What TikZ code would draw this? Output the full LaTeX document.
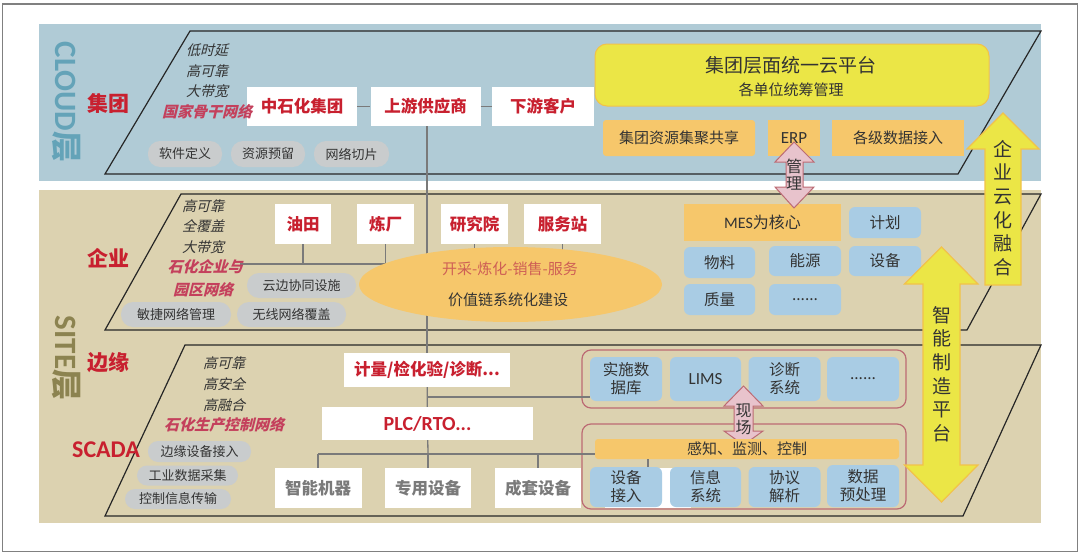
\documentclass[tikz,border=0pt]{standalone}
\usepackage{fontspec}
\usetikzlibrary{shapes.geometric}
\setmainfont{Noto Sans CJK SC}
\newfontfamily\slantf[FakeSlant=0.25]{Noto Sans CJK SC}
\newfontfamily\latinf{Carlito}
\definecolor{cloudbg}{HTML}{B0CBD6}
\definecolor{sitebg}{HTML}{DCD2B0}
\definecolor{cloudtxt}{HTML}{64A3B8}
\definecolor{sitetxt}{HTML}{8C8350}
\definecolor{redtxt}{HTML}{C8202F}
\definecolor{pinktxt}{HTML}{C4405C}
\definecolor{chaintxt}{HTML}{CE5F55}
\definecolor{darktxt}{HTML}{333333}
\definecolor{linegray}{HTML}{7A7A7A}
\definecolor{pillgray}{HTML}{C9CCCD}
\definecolor{boxorange}{HTML}{F6C76B}
\definecolor{boxblue}{HTML}{A9CCE4}
\definecolor{platyellow}{HTML}{EBE646}
\definecolor{arrowedge}{HTML}{F2C24A}
\definecolor{arrowpink}{HTML}{E8C3CC}
\definecolor{roseedge}{HTML}{BC6B74}
\newcommand{\fsz}[1]{\fontsize{#1}{#1}\selectfont}
\tikzset{
  plane/.style={draw=black!85,line width=1.2pt,line join=miter},
  conn/.style={draw=linegray,line width=1.3pt},
  whitebox/.style={fill=white,inner sep=0pt,text=redtxt,font=\fsz{16.5}\bfseries},
  devbox/.style={whitebox,text=linegray},
  pillbox/.style={fill=pillgray,rounded corners=12pt,inner sep=0pt,text=darktxt,font=\fsz{13}},
  orangebox/.style={fill=boxorange,rounded corners=3pt,inner sep=0pt,text=darktxt,font=\fsz{15}},
  bluebox/.style={fill=boxblue,rounded corners=6pt,inner sep=0pt,text=darktxt,align=center,font=\fontsize{15.5}{18}\selectfont},
  layername/.style={text=redtxt,font=\fsz{21}\bfseries},
  sidename/.style={rotate=-90,inner sep=0pt,font=\fsz{31}\bfseries},
  traits/.style={text=darktxt,font=\fsz{14}\slantf},
  nettxt/.style={text=pinktxt,font=\fsz{15}\slantf\bfseries},
  rosebox/.style={draw=roseedge,line width=1.2pt,rounded corners=9pt},
  yellowarrow/.style={fill=platyellow,draw=arrowedge,line width=1.2pt,line join=miter},
  pinkarrow/.style={fill=arrowpink,draw=roseedge,line width=1pt,line join=miter},
  arrowtxt/.style={text=darktxt,align=center,inner sep=0pt,font=\fontsize{16}{17}\selectfont},
  bigtxt/.style={text=darktxt,align=center,inner sep=0pt,font=\fontsize{19}{23.7}\selectfont},
}
\begin{document}
\begin{tikzpicture}[x=1pt,y=-1pt]
\useasboundingbox (0,0) rectangle (1080,554);
\fill [white] (0,0) rectangle (1080,554);
\draw [black!50,line width=1.5pt] (2.5,4) rectangle (1077.5,551.5);
\fill [cloudbg] (39,24) rectangle (1041,181);
\fill [sitebg] (39,190) rectangle (1041,523);
\draw [plane] (190,31) -- (1041,31) -- (958,174) -- (105,174) -- cycle;
\draw [plane] (181,194) -- (1041,194) -- (967,330) -- (105,330) -- cycle;
\draw [plane] (185,345) -- (1041,345) -- (963,516) -- (105,516) -- cycle;
\node [sidename,text=cloudtxt] (cloudname) at (66,102) {{\latinf CLOUD}层};
\node [sidename,text=sitetxt] (sitename) at (66,358) {{\latinf SITE}层};
\node [layername] (jituan) at (108,103) {集团};
\node [layername] (qiye) at (108,258) {企业};
\node [layername] (bianyuan) at (108,363) {边缘};
\node [layername,font=\fsz{24}\latinf\bfseries] (scada) at (106,450) {SCADA};

\node [traits] (c1) at (207,50) {低时延};
\node [traits] (c2) at (207,71) {高可靠};
\node [traits] (c3) at (207,91) {大带宽};
\node [whitebox,minimum width=110pt,minimum height=39pt] (zsh) at (302,106.5) {中石化集团};
\node [nettxt] (c4) at (207,112) {国家骨干网络};
\node [whitebox,minimum width=110pt,minimum height=39pt] (upstream) at (425.5,106.5) {上游供应商};
\node [whitebox,minimum width=102pt,minimum height=39pt] (downstream) at (543,106.5) {下游客户};
\node [pillbox,minimum width=74pt,minimum height=26pt] (sdn) at (185,154) {软件定义};
\node [pillbox,minimum width=74pt,minimum height=26pt] (reserve) at (268,154) {资源预留};
\node [pillbox,minimum width=75pt,minimum height=26pt] (slice) at (351.5,154) {网络切片};

\node [fill=platyellow,draw=arrowedge,line width=1pt,rounded corners=12pt,minimum width=394pt,minimum height=62pt] (platform) at (792,75) {};
\node [text=darktxt,font=\fsz{19}] (platform1) at (791,65) {集团层面统一云平台};
\node [text=darktxt,font=\fsz{15}] (platform2) at (791,90) {各单位统筹管理};
\node [orangebox,minimum width=152pt,minimum height=36pt] (share) at (679,138) {集团资源集聚共享};
\node [orangebox,rounded corners=0pt,minimum width=52pt,minimum height=36pt,font=\fsz{17}\latinf] (erp) at (794,138) {ERP};
\node [orangebox,rounded corners=0pt,minimum width=132pt,minimum height=36pt] (dataaccess) at (898,138) {各级数据接入};

\node [traits] (e1) at (203,206) {高可靠};
\node [traits] (e2) at (203,226) {全覆盖};
\node [traits] (e3) at (203,247) {大带宽};
\node [whitebox,minimum width=56pt,minimum height=40pt] (oilfield) at (303,224) {油田};
\node [whitebox,minimum width=57pt,minimum height=40pt] (refinery) at (385.5,224) {炼厂};
\node [whitebox,minimum width=67pt,minimum height=40pt] (institute) at (474.5,224) {研究院};
\node [whitebox,minimum width=77pt,minimum height=40pt] (station) at (562.5,224) {服务站};

\node [whitebox,minimum width=166pt,minimum height=34pt] (metering) at (427,370) {计量/检化验/诊断...};
\node [whitebox,minimum width=211pt,minimum height=33pt,font=\fsz{20}\latinf\bfseries] (plc) at (427.5,423.5) {PLC/RTO...};
\node [devbox,minimum width=87pt,minimum height=40pt] (robot) at (318,488) {智能机器};
\node [devbox,minimum width=86pt,minimum height=40pt] (special) at (428,488) {专用设备};
\node [devbox,minimum width=86pt,minimum height=40pt] (complete) at (538,488) {成套设备};
\node [fill=white,minimum width=86pt,minimum height=40pt,inner sep=0pt] (hidden) at (648,488) {};

\coordinate (branch) at (428,397);
\coordinate (bus) at (428,454);
\coordinate (entbus) at (240,264);
\coordinate (chaincentre) at (510,284);

\draw [conn] (zsh) -- (upstream);
\draw [conn] (upstream) -- (downstream);
\draw [conn] (upstream.south -| metering) -- (metering);
\draw [conn] (entbus) -- (entbus -| chaincentre);
\draw [conn] (oilfield) -- (oilfield |- entbus);
\draw [conn] (refinery) -- (refinery |- entbus);
\draw [conn] (institute) -- (institute |- chaincentre);
\draw [conn] (station) -- (station |- chaincentre);

\node [nettxt] (e4) at (205,267) {石化企业与};
\node [nettxt] (e5) at (203,290) {园区网络};
\node [fill=boxorange,ellipse,inner sep=0pt,minimum width=303pt,minimum height=75pt] (chain) at (510.5,284.5) {};
\node [text=chaintxt,font=\fsz{15}] (chain1) at (510,269) {开采-炼化-销售-服务};
\node [text=darktxt,font=\fsz{15}] (chain2) at (508,300) {价值链系统化建设};
\node [pillbox,minimum width=109pt,minimum height=25pt] (cloudedge) at (301.5,285.5) {云边协同设施};
\node [pillbox,minimum width=110pt,minimum height=25pt] (agile) at (176,314.5) {敏捷网络管理};
\node [pillbox,minimum width=109pt,minimum height=25pt] (wireless) at (291.5,314.5) {无线网络覆盖};

\node [orangebox,rounded corners=0pt,minimum width=157pt,minimum height=37pt,font=\fontsize{16}{16}\selectfont] (mes) at (762.5,222.5) {{\latinf MES}为核心};
\node [bluebox,minimum width=72pt,minimum height=31pt] (plan) at (885,222.5) {计划};
\node [bluebox,minimum width=71pt,minimum height=31pt] (material) at (719.5,262.5) {物料};
\node [bluebox,minimum width=72pt,minimum height=30pt] (energy) at (805,261) {能源};
\node [bluebox,minimum width=72pt,minimum height=30pt] (equip) at (885,261) {设备};
\node [bluebox,minimum width=71pt,minimum height=31pt] (quality) at (719.5,299.5) {质量};
\node [bluebox,minimum width=72pt,minimum height=31pt] (more1) at (805,299.5) {......};

\node [traits] (s1) at (224,363) {高可靠};
\node [traits] (s2) at (224,384) {高安全};
\node [traits] (s3) at (224,405) {高融合};
\node [nettxt] (s4) at (224,425) {石化生产控制网络};
\node [pillbox,rounded corners=10pt,minimum width=103pt,minimum height=21pt] (devaccess) at (199.5,451.5) {边缘设备接入};
\node [pillbox,rounded corners=10pt,minimum width=101pt,minimum height=20pt] (collect) at (187.5,475.5) {工业数据采集};
\node [pillbox,rounded corners=10pt,minimum width=106pt,minimum height=20pt] (transfer) at (178,499) {控制信息传输};

\node [rosebox,minimum width=324pt,minimum height=58pt] (sysgroup) at (744,379) {};
\node [rosebox,minimum width=324pt,minimum height=85pt] (fieldgroup) at (744,466.5) {};
\node [bluebox,minimum width=72pt,minimum height=44pt] (rtdb) at (626,379) {实施数\\据库};
\node [bluebox,minimum width=71pt,minimum height=44pt,font=\fsz{17}\latinf] (lims) at (705.5,379) {LIMS};
\node [bluebox,minimum width=72pt,minimum height=44pt] (diag) at (784.5,379) {诊断\\系统};
\node [bluebox,minimum width=72pt,minimum height=44pt] (more2) at (863,379) {......};
\draw [pinkarrow] (743.5,386) -- (763,406) -- (753,406) -- (753,431) -- (763,431) -- (743.5,445) -- (724,431) -- (734,431) -- (734,406) -- (724,406) -- cycle;
\node [arrowtxt] (site) at (743.5,419) {现\\场};
\node [fill=boxorange,rounded corners=3pt,inner sep=0pt,minimum width=304pt,minimum height=20pt,text=darktxt,font=\fsz{15}] (sense) at (747,449) {感知、监测、控制};

\draw [conn] (metering) -- (plc);
\draw [conn] (branch) -- (branch -| rtdb.west);
\draw [conn] (plc) -- (bus);
\draw [conn] (robot |- bus) -- (sense.west |- bus);
\draw [conn] (robot.north) -- (robot |- bus);
\draw [conn] (special.north) -- (special |- bus);
\draw [conn] (complete.north) -- (complete |- bus);
\draw [conn] (hidden.north) -- (hidden |- sense.south);
\node [bluebox,minimum width=72pt,minimum height=40pt] (access) at (626,487) {设备\\接入};
\node [bluebox,minimum width=71pt,minimum height=40pt] (infosys) at (705.5,487) {信息\\系统};
\node [bluebox,minimum width=72pt,minimum height=40pt] (protocol) at (784.5,487) {协议\\解析};
\node [bluebox,minimum width=72pt,minimum height=42pt] (preproc) at (863,486) {数据\\预处理};

\draw [pinkarrow] (794,142) -- (814,162) -- (803,162) -- (803,187) -- (814,187) -- (794,208) -- (775,187) -- (786,187) -- (786,162) -- (775,162) -- cycle;
\node [arrowtxt] (manage) at (794,175) {管\\理};
\draw [yellowarrow] (1003,113) -- (1039,149) -- (1021,149) -- (1021,285) -- (985,285) -- (985,149) -- (967,149) -- cycle;
\node [bigtxt] (cloudfusion) at (1003,208) {企\\业\\云\\化\\融\\合};
\draw [yellowarrow] (941.5,247) -- (978,284) -- (960,284) -- (960,465) -- (978,465) -- (941.5,502) -- (904.5,465) -- (923,465) -- (923,284) -- (904.5,284) -- cycle;
\node [bigtxt] (smartmfg) at (941.5,374) {智\\能\\制\\造\\平\\台};
\end{tikzpicture}
\end{document}
